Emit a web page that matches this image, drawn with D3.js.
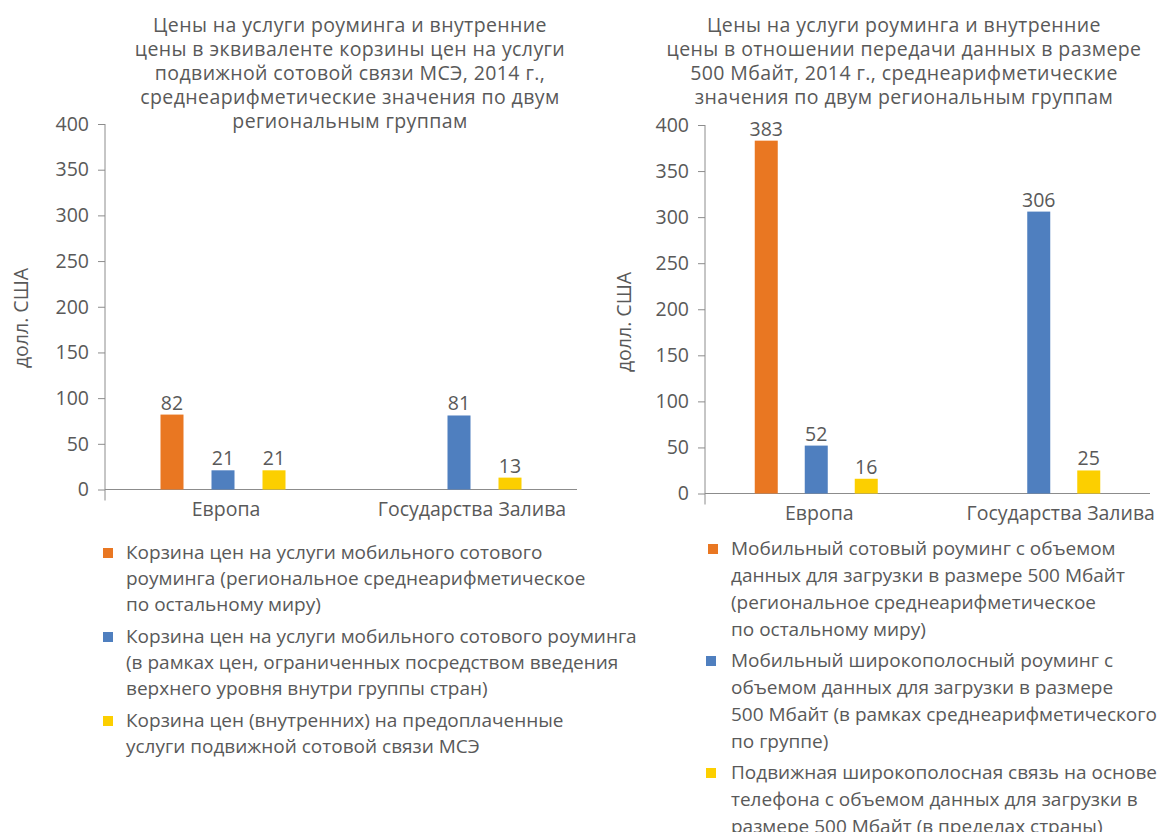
<html>
<head>
<meta charset="utf-8">
<script src="https://d3js.org/d3.v7.min.js"></script>
<style>
  body { margin: 0; background: #fff; }
  text { font-family: "Open Sans", "Noto Sans", sans-serif; fill: #595959; }
</style>
</head>
<body>
<div id="svgcontainer"></div>
<script>
// data
var categories = ["Европа", "Государства Залива"];
var yTicks = [0, 50, 100, 150, 200, 250, 300, 350, 400];

// left chart: basket of mobile cellular prices
var leftTitle = ["Цены на услуги роуминга и внутренние",
                 "цены в эквиваленте корзины цен на услуги",
                 "подвижной сотовой связи МСЭ, 2014 г.,",
                 "среднеарифметические значения по двум",
                 "региональным группам"];
var leftRestOfWorld = [82, null];
var leftWithinGroup = [21, 81];
var leftDomestic = [21, 13];
var leftLegend = [
  ["Корзина цен на услуги мобильного сотового",
   "роуминга (региональное среднеарифметическое",
   "по остальному миру)"],
  ["Корзина цен на услуги мобильного сотового роуминга",
   "(в рамках цен, ограниченных посредством введения",
   "верхнего уровня внутри группы стран)"],
  ["Корзина цен (внутренних) на предоплаченные",
   "услуги подвижной сотовой связи МСЭ"]];

// right chart: 500 MB data
var rightTitle = ["Цены на услуги роуминга и внутренние",
                  "цены в отношении передачи данных в размере",
                  "500 Мбайт, 2014 г., среднеарифметические",
                  "значения по двум региональным группам"];
var rightRestOfWorld = [383, null];
var rightWithinGroup = [52, 306];
var rightDomestic = [16, 25];
var rightLegend = [
  ["Мобильный сотовый роуминг с объемом",
   "данных для загрузки в размере 500 Мбайт",
   "(региональное среднеарифметическое",
   "по остальному миру)"],
  ["Мобильный широкополосный роуминг с",
   "объемом данных для загрузки в размере",
   "500 Мбайт (в рамках среднеарифметического",
   "по группе)"],
  ["Подвижная широкополосная связь на основе",
   "телефона с объемом данных для загрузки в",
   "размере 500 Мбайт (в пределах страны)"]];

var colors = ["#E97722", "#4F7FBF", "#FCCF00"];
var yLabel = "долл. США";

var svg = d3.select("#svgcontainer").append("svg")
  .attr("width", 1169).attr("height", 832);

function drawChart(c) {
  var g = svg.append("g");

  // title
  g.append("text")
    .attr("text-anchor", "middle")
    .style("font-size", "19.5px")
    .style("letter-spacing", "0.4px")
    .selectAll("tspan").data(c.title).join("tspan")
    .attr("x", c.titleX)
    .attr("y", function(d, i) { return c.titleY + i * 24; })
    .text(function(d) { return d; });

  var y = d3.scaleLinear().domain([0, 400]).range([c.y0, c.y400]);
  var x0 = d3.scaleBand().domain(categories).range([c.left, c.right]);
  var x1 = d3.scaleBand().domain([0, 1, 2])
    .range([x0.bandwidth() / 2 - c.step * 1.5, x0.bandwidth() / 2 + c.step * 1.5])
    .paddingInner(1 - c.barW / c.step).paddingOuter((1 - c.barW / c.step) / 2);

  // y axis
  var yAxis = d3.axisLeft(y).tickValues(yTicks).tickSize(7).tickPadding(9);
  var ya = g.append("g").attr("transform", "translate(" + c.left + ",0)").call(yAxis);
  ya.select(".domain").remove();
  ya.selectAll("line").attr("stroke", "#8c8c8c");
  ya.selectAll("text").style("font-size", "19.5px").attr("fill", "#595959")
    .style("font-family", "'Open Sans', sans-serif");
  g.append("line")
    .attr("x1", c.left).attr("x2", c.left)
    .attr("y1", y(400)).attr("y2", y(0) + 11)
    .attr("stroke", "#8c8c8c");
  g.append("line")
    .attr("x1", c.left).attr("x2", c.right)
    .attr("y1", y(0)).attr("y2", y(0))
    .attr("stroke", "#8c8c8c");

  // category labels
  g.selectAll(".cat").data(categories).join("text")
    .attr("x", function(d, i) { return x0(d) + x0.bandwidth() / 2 + c.catDx[i]; })
    .attr("y", y(0) + 26)
    .attr("text-anchor", "middle")
    .style("font-size", "19.5px")
    .text(function(d) { return d; });

  // y label
  g.append("text")
    .attr("transform", "translate(" + c.yLabelX + "," + c.yLabelY + ") rotate(-90)")
    .attr("text-anchor", "middle")
    .style("font-size", "19.5px")
    .text(yLabel);

  // bars
  c.series.forEach(function(vals, s) {
    categories.forEach(function(cat, i) {
      var v = vals[i];
      if (v == null) return;
      g.append("rect")
        .attr("x", x0(cat) + x1(s))
        .attr("y", y(v))
        .attr("width", x1.bandwidth())
        .attr("height", y(0) - y(v))
        .attr("fill", colors[s]);
      g.append("text")
        .attr("x", x0(cat) + x1(s) + x1.bandwidth() / 2)
        .attr("y", y(v) - 5)
        .attr("text-anchor", "middle")
        .style("font-size", "19.5px")
        .text(v);
    });
  });

  // legend
  var ly = c.legendY;
  c.legend.forEach(function(lines, s) {
    g.append("rect")
      .attr("x", c.legendBoxX[s]).attr("y", ly - 11)
      .attr("width", 10).attr("height", 10)
      .attr("fill", colors[s]);
    g.append("text")
      .style("font-size", "19px")
      .selectAll("tspan").data(lines).join("tspan")
      .attr("x", c.legendTextX)
      .attr("y", function(d, i) { return ly + i * c.lineH; })
      .text(function(d) { return d; });
    ly += lines.length * c.lineH + c.itemGap;
  });
}

drawChart({
  title: leftTitle, titleX: 350, titleY: 32,
  series: [leftRestOfWorld, leftWithinGroup, leftDomestic],
  left: 105, right: 577, y0: 489.5, y400: 124,
  step: 51, barW: 23, catDx: [3, 13],
  yLabelX: 28, yLabelY: 318,
  legend: leftLegend, legendY: 559, lineH: 26, itemGap: 6,
  legendBoxX: [103, 103, 103], legendTextX: 126
});

drawChart({
  title: rightTitle, titleX: 904, titleY: 32,
  series: [rightRestOfWorld, rightWithinGroup, rightDomestic],
  left: 705, right: 1150, y0: 493.5, y400: 125,
  step: 50, barW: 23, catDx: [3, 22],
  yLabelX: 631, yLabelY: 322,
  legend: rightLegend, legendY: 555, lineH: 27, itemGap: 4,
  legendBoxX: [708, 706, 706], legendTextX: 731
});
</script>
</body>
</html>
